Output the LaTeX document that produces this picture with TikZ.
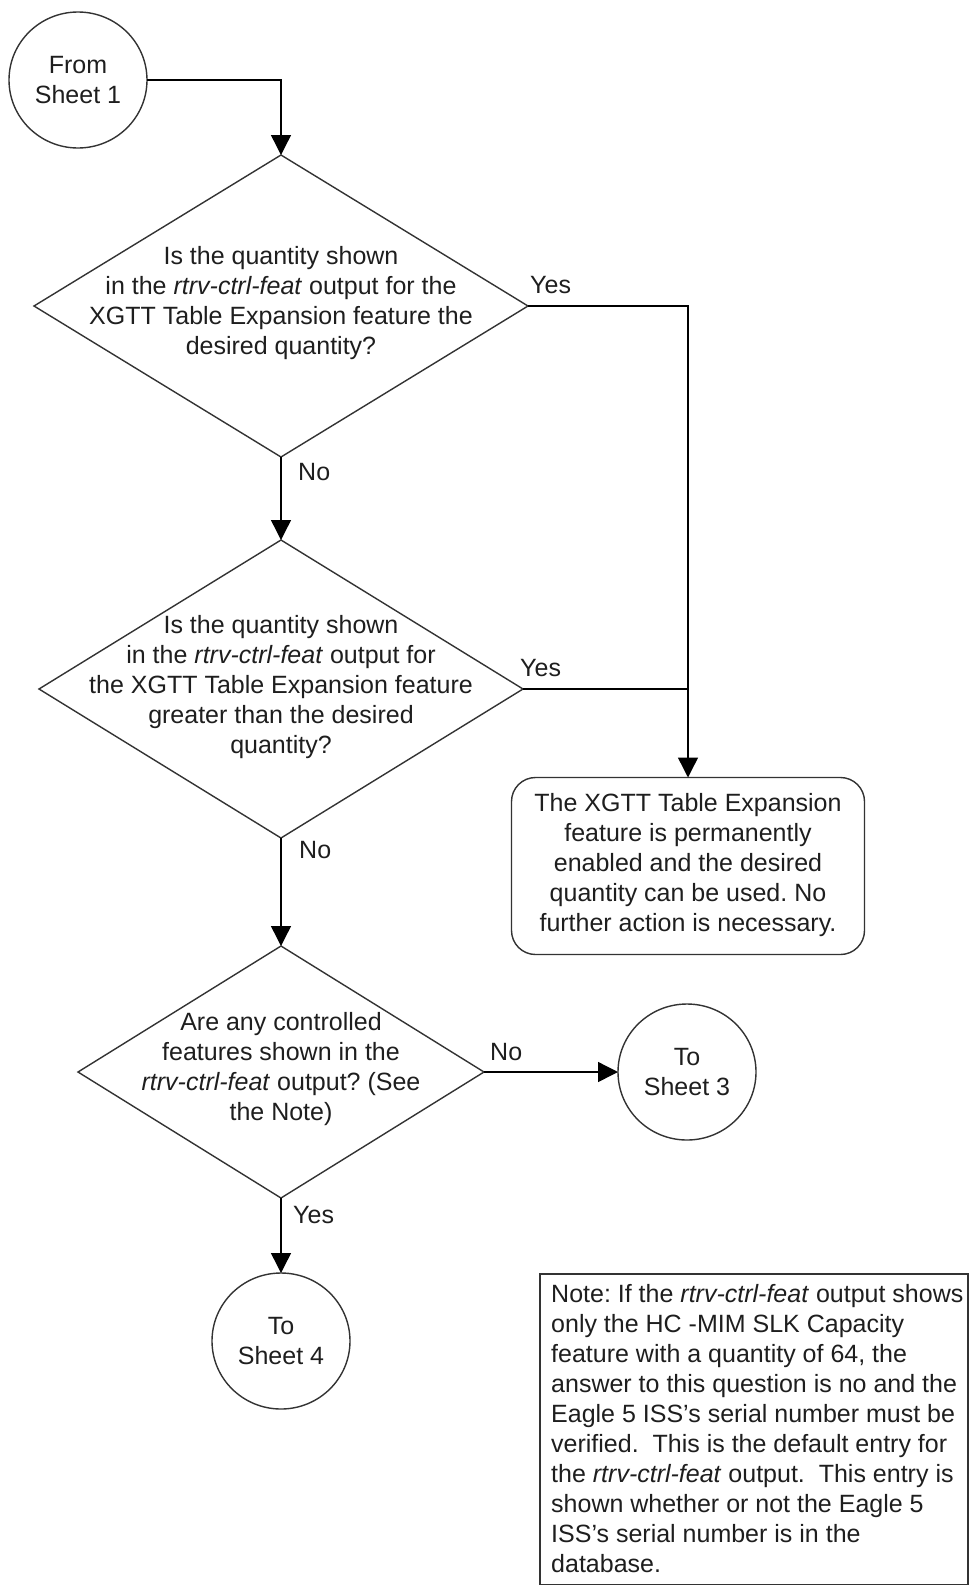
\documentclass[tikz,border=0pt]{standalone}
\usepackage{fontspec}
\setmainfont{Liberation Sans}
\usetikzlibrary{shapes.geometric,arrows.meta}
\definecolor{ink}{HTML}{1E1E1E}
\definecolor{edge}{HTML}{333333}
\frenchspacing
\begin{document}
\begin{tikzpicture}[x=1pt,y=-1pt,
  every node/.style={font=\fontsize{25}{30}\selectfont, text=ink},
  conn/.style={draw=edge, line width=1.4pt, inner sep=0pt, outer sep=0pt},
  term/.style={conn, ellipse, minimum width=138, minimum height=136},
  txt/.style={align=center, inner sep=0pt},
  lbl/.style={inner sep=0pt, anchor=west},
  arr/.style={draw=black, line width=1.4pt, -{Triangle[width=20pt,length=20pt]}},
  line/.style={draw=black, line width=1.4pt}
]
\useasboundingbox (0,0) rectangle (969,1585);

\node[term] (s1) at (78,80) {};
\node[txt] (s1t) at (s1) {From\\Sheet 1};

\node[conn, diamond, minimum width=494, minimum height=302] (d1) at (281,306) {};
\node[txt] (d1t) at (281,303) {Is the quantity shown\\in the \textit{rtrv-ctrl-feat} output for the\\XGTT Table Expansion feature the\\desired quantity?};

\node[conn, diamond, minimum width=484, minimum height=298] (d2) at (281,689) {};
\node[txt] (d2t) at (281,687) {Is the quantity shown\\in the \textit{rtrv-ctrl-feat} output for\\the XGTT Table Expansion feature\\greater than the desired\\quantity?};

\node[conn, rectangle, rounded corners=24pt, minimum width=353, minimum height=177] (box) at (688,866) {};
\node[txt] (boxt) at (688,865) {The XGTT Table Expansion\\feature is permanently\\enabled and the desired\\quantity can be used. No\\further action is necessary.};

\node[conn, diamond, minimum width=406, minimum height=252] (d3) at (281,1072) {};
\node[txt] (d3t) at (281,1069) {Are any controlled\\features shown in the\\\textit{rtrv-ctrl-feat} output? (See\\the Note)};

\node[term] (s3) at (687,1072) {};
\node[txt] (s3t) at (s3) {To\\Sheet 3};

\node[term] (s4) at (281,1341) {};
\node[txt] (s4t) at (s4) {To\\Sheet 4};

\node[conn, rectangle, minimum width=428, minimum height=311, anchor=north west] (note) at (540,1274) {};
\node[inner sep=0pt, anchor=north west, align=left] (notet) at (551,1284) {Note: If the \textit{rtrv-ctrl-feat} output shows\\only the HC -MIM SLK Capacity\\feature with a quantity of 64, the\\answer to this question is no and the\\Eagle 5 ISS's serial number must be\\verified.\ \ This is the default entry for\\the \textit{rtrv-ctrl-feat} output.\ \ This entry is\\shown whether or not the Eagle 5\\ISS's serial number is in the\\database.};

% connectors
\draw[arr] (s1.east) -| (d1.north);
\draw[arr] (d1.south) -- (d2.north);
\draw[arr] (d1.east) -| (box.north);
\draw[line] (d2.east) -- (box.north |- d2.east);
\draw[arr] (d2.south) -- (d3.north);
\draw[arr] (d3.east) -- (s3.west);
\draw[arr] (d3.south) -- (s4.north);

% labels
\node[lbl] (l1) at (530,285) {Yes};
\node[lbl] (l2) at (298,472) {No};
\node[lbl] (l3) at (520,668) {Yes};
\node[lbl] (l4) at (299,850) {No};
\node[lbl] (l5) at (490,1052) {No};
\node[lbl] (l6) at (293,1215) {Yes};
\end{tikzpicture}
\end{document}
